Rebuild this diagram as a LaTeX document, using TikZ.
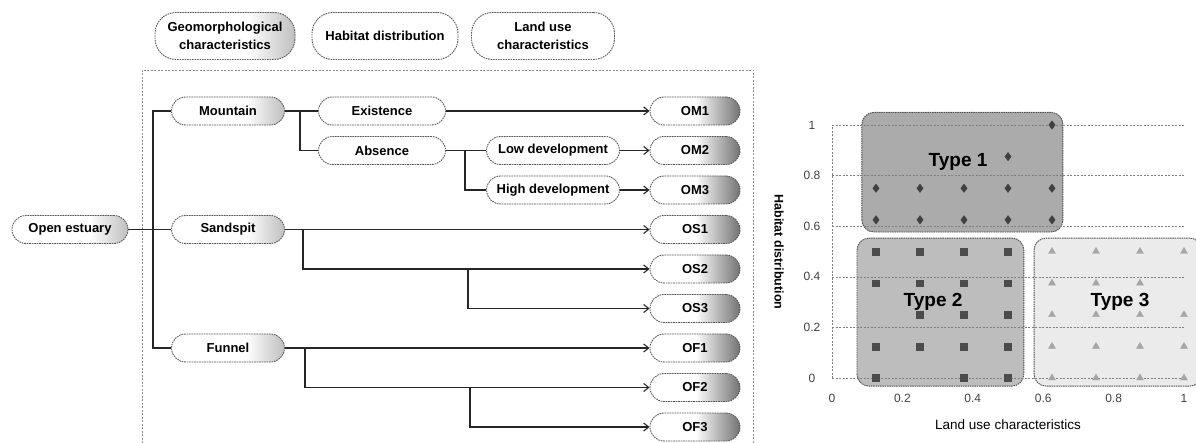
\documentclass[tikz,border=0pt]{standalone}
\usepackage{fontspec}
\setmainfont{Liberation Sans}
\usetikzlibrary{positioning, arrows.meta, calc, plotmarks}

\pgfdeclarehorizontalshading{leafshade}{100bp}{color(0bp)=(white); color(50bp)=(white); color(75bp)=(black!55); color(100bp)=(black!55)}
\pgfdeclarehorizontalshading{midshade}{100bp}{color(0bp)=(white); color(58bp)=(white); color(75bp)=(black!25); color(100bp)=(black!25)}

\begin{document}
\begin{tikzpicture}[x=1pt, y=-1pt,
>={Straight Barb[length=5pt,width=8pt]},
link/.style={line width=1.1pt, draw=black!85},
box/.style={draw=black!65, dash pattern=on 1.6pt off 0.9pt, line width=0.9pt, rounded corners=14pt, minimum height=28pt, fill=white, inner xsep=4pt, font=\bfseries\fontsize{13}{16}\selectfont},
leaf/.style={box, minimum width=90pt, shade, shading=leafshade},
mid/.style={box, minimum width=113pt, shade, shading=midshade},
sub/.style={box, minimum width=127pt},
dev/.style={box, minimum width=133pt},
head/.style={box, minimum height=47pt, rounded corners=21pt, align=center, font=\bfseries\fontsize{13}{18}\selectfont},
frame/.style={draw=black!45, dash pattern=on 2pt off 1.5pt, line width=0.6pt},
gridln/.style={draw=black!50, dash pattern=on 2pt off 1.5pt, line width=0.6pt},
tbox/.style={draw=black!70, dash pattern=on 1.5pt off 0.8pt, line width=0.9pt, rounded corners=12pt},
tick/.style={text=black!75, font=\fontsize{12}{14}\selectfont},
typelbl/.style={font=\bfseries\fontsize{19}{22}\selectfont}]

\useasboundingbox (0,0) rectangle (1196,443);

% headers
\node[head, minimum width=140pt, shade, shading=midshade] (hgeo) at (225,36) {Geomorphological\\characteristics};
\node[head, minimum width=146pt] (hhab) at (385,36) {Habitat distribution};
\node[head, minimum width=143pt] (hland) at (543,36) {Land use\\characteristics};

\draw[frame] (142,443) -- (142,70) -- (753,70) -- (753,443);

% result column
\node[leaf] (om1) at (695,111) {OM1};
\node[leaf] (om2) [below=10.6pt of om1] {OM2};
\node[leaf] (om3) [below=10.6pt of om2] {OM3};
\node[leaf] (os1) [below=10.6pt of om3] {OS1};
\node[leaf] (os2) [below=10.6pt of os1] {OS2};
\node[leaf] (os3) [below=10.6pt of os2] {OS3};
\node[leaf] (of1) [below=10.6pt of os3] {OF1};
\node[leaf] (of2) [below=10.6pt of of1] {OF2};
\node[leaf] (of3) [below=10.6pt of of2] {OF3};

\node[mid] (mount) at (228,0 |- om1) {Mountain};
\node[mid] (sand) at (228,0 |- os1) {Sandspit};
\node[mid] (fun) at (228,0 |- of1) {Funnel};
\node[mid, minimum width=116pt] (oe) at (70,0 |- sand) {Open estuary};

\node[sub] (exist) at (382,0 |- om1) {Existence};
\node[sub] (absn) at (382,0 |- om2) {Absence};
\node[dev] (low) at (553,0 |- om2) {Low development};
\node[dev] (high) at (553,0 |- om3) {High development};

\coordinate (trunk) at (153,0 |- sand);
\coordinate (mbr) at (300,0 |- mount);
\coordinate (abr) at (465,0 |- absn);
\coordinate (sbr) at (303,0 |- sand);
\coordinate (sbr2) at (468,0 |- os2);
\coordinate (fbr) at (305,0 |- fun);
\coordinate (fbr2) at (470,0 |- of2);

\draw[link] (oe) -- (sand);
\draw[link] (mount.west) -| (trunk) |- (fun.west);
\draw[link] (mount) -- (exist);
\draw[link] (mbr) |- (absn.west);
\draw[link] (absn) -- (low);
\draw[link] (abr) |- (high.west);
\draw[link, ->] (exist) -- (om1);
\draw[link, ->] (low) -- (om2);
\draw[link, ->] (high) -- (om3);
\draw[link, ->] (sand) -- (os1);
\draw[link, ->] (sbr) |- (os2.west);
\draw[link, ->] (sbr2) |- (os3.west);
\draw[link, ->] (fun) -- (of1);
\draw[link, ->] (fbr) |- (of2.west);
\draw[link, ->] (fbr2) |- (of3.west);

% chart
\begin{scope}[shift={(832,378)}, x={(352pt,0pt)}, y={(0pt,253pt)}]
\draw[tbox, fill=black!33] (0.085,0.577) rectangle (0.656,1.05);
\draw[tbox, fill=black!26] (0.071,-0.032) rectangle (0.545,0.553);
\draw[tbox, fill=black!8] (0.574,-0.032) rectangle (1.05,0.553);

\foreach \v in {0,0.2,0.4,0.6,0.8,1}
  \draw[gridln] (0,\v) -- (1,\v);
\draw[gridln] (0,0) -- (0,1);

\foreach \v [count=\i] in {0,0.2,0.4,0.6,0.8,1} {
  \node[tick] (yt\i) at (-0.057,\v) {\v};
  \node[tick] (xt\i) at (\v,-0.08) {\v};
}
\node[font=\fontsize{13.5}{16}\selectfont] (xlab) at (0.5,-0.186) {Land use characteristics};
\node[font=\bfseries\fontsize{12.5}{15}\selectfont, rotate=-90] (ylab) at (-0.15,0.498) {Habitat distribution};

\draw[black!75] plot[only marks, mark=diamond*, mark size=4.2pt] coordinates {
  (0.125,0.625) (0.25,0.625) (0.375,0.625) (0.5,0.625) (0.625,0.625)
  (0.125,0.75) (0.25,0.75) (0.375,0.75) (0.5,0.75) (0.625,0.75)
  (0.5,0.875) (0.625,1)};
\draw[black!70] plot[only marks, mark=square*, mark size=3.4pt] coordinates {
  (0.125,0.5) (0.25,0.5) (0.375,0.5) (0.5,0.5)
  (0.125,0.375) (0.25,0.375) (0.375,0.375) (0.5,0.375)
  (0.25,0.25) (0.375,0.25) (0.5,0.25)
  (0.125,0.125) (0.25,0.125) (0.375,0.125) (0.5,0.125)
  (0.125,0) (0.375,0) (0.5,0)};
\draw[black!35] plot[only marks, mark=triangle*, mark size=4pt] coordinates {
  (0.625,0.5) (0.75,0.5) (0.875,0.5) (1,0.5)
  (0.625,0.375) (0.75,0.375) (0.875,0.375)
  (0.625,0.25) (0.75,0.25) (0.875,0.25) (1,0.25)
  (0.625,0.125) (0.75,0.125) (0.875,0.125) (1,0.125)
  (0.625,0) (0.75,0) (0.875,0) (1,0)};

\node[typelbl] (t1) at (0.358,0.855) {Type 1};
\node[typelbl] (t2) at (0.287,0.30) {Type 2};
\node[typelbl] (t3) at (0.818,0.30) {Type 3};
\end{scope}
\end{tikzpicture}
\end{document}
